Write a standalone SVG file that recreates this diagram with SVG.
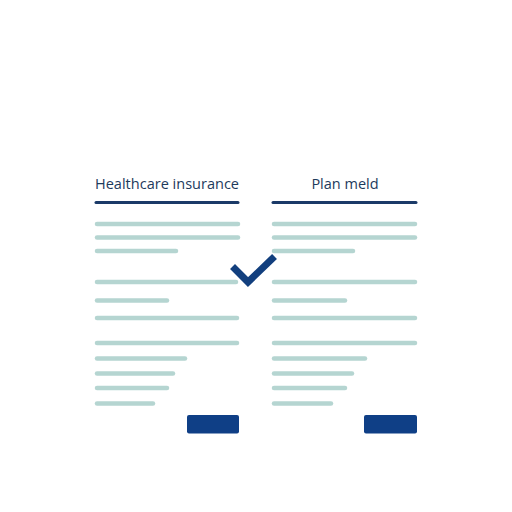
<svg xmlns="http://www.w3.org/2000/svg" width="512" height="512" viewBox="0 0 512 512">
<defs>
<linearGradient id="fadeA" gradientUnits="userSpaceOnUse" x1="274" y1="0" x2="305" y2="0">
<stop offset="0" stop-color="#b5d5d1" stop-opacity="0.15"/>
<stop offset="1" stop-color="#b5d5d1"/>
</linearGradient>
<linearGradient id="fadeB" gradientUnits="userSpaceOnUse" x1="274" y1="0" x2="292" y2="0">
<stop offset="0" stop-color="#b5d5d1" stop-opacity="0.3"/>
<stop offset="1" stop-color="#b5d5d1"/>
</linearGradient>
</defs>
<style>
.t{font-family:"Open Sans","Noto Sans",sans-serif;font-size:14.5px;fill:#1d3a5c}
.h{stroke:#1b3a68;stroke-width:3;stroke-linecap:round}
.l{stroke:#b5d5d1;stroke-width:4.5;stroke-linecap:round}
.b{fill:#0f3f86}
</style>
<rect width="512" height="512" fill="#ffffff"/>
<g id="left">
<text class="t" x="95" y="189" textLength="144" lengthAdjust="spacingAndGlyphs">Healthcare insurance</text>
<line class="h" x1="96" y1="202.5" x2="238" y2="202.5"/>
<line class="l" x1="97" y1="224" x2="238" y2="224"/>
<line class="l" x1="97" y1="237.5" x2="238" y2="237.5"/>
<line class="l" x1="97" y1="251" x2="176" y2="251"/>
<line class="l" x1="97" y1="282" x2="236" y2="282"/>
<line class="l" x1="97" y1="300.5" x2="167" y2="300.5"/>
<line class="l" x1="97" y1="318" x2="237" y2="318"/>
<line class="l" x1="97" y1="343" x2="237" y2="343"/>
<line class="l" x1="97" y1="358.5" x2="185" y2="358.5"/>
<line class="l" x1="97" y1="373.5" x2="173" y2="373.5"/>
<line class="l" x1="97" y1="388" x2="167" y2="388"/>
<line class="l" x1="97" y1="403.5" x2="153" y2="403.5"/>
<rect class="b" x="187" y="415" width="52" height="18.5" rx="2"/>
</g>
<g id="right">
<text class="t" x="345" y="189" text-anchor="middle">Plan meld</text>
<line class="h" x1="273" y1="202.5" x2="416" y2="202.5"/>
<line class="l" x1="274" y1="224" x2="415" y2="224" stroke="url(#fadeB)"/>
<line class="l" x1="274" y1="237.5" x2="415" y2="237.5"/>
<line class="l" x1="274" y1="251" x2="353" y2="251" stroke="url(#fadeA)"/>
<line class="l" x1="274" y1="282" x2="415" y2="282"/>
<line class="l" x1="274" y1="300.5" x2="345" y2="300.5"/>
<line class="l" x1="274" y1="318" x2="415" y2="318"/>
<line class="l" x1="274" y1="343" x2="415" y2="343"/>
<line class="l" x1="274" y1="358.5" x2="365" y2="358.5" stroke="url(#fadeB)"/>
<line class="l" x1="274" y1="373.5" x2="352" y2="373.5"/>
<line class="l" x1="274" y1="388" x2="345" y2="388"/>
<line class="l" x1="274" y1="403.5" x2="331" y2="403.5"/>
<rect class="b" x="364" y="415" width="53" height="18.5" rx="2"/>
</g>
<g id="check">
<polyline points="235,269 248,282 272,259" fill="none" stroke="#123f7e" stroke-width="7" stroke-linecap="square" stroke-linejoin="miter"/>
</g>
</svg>
